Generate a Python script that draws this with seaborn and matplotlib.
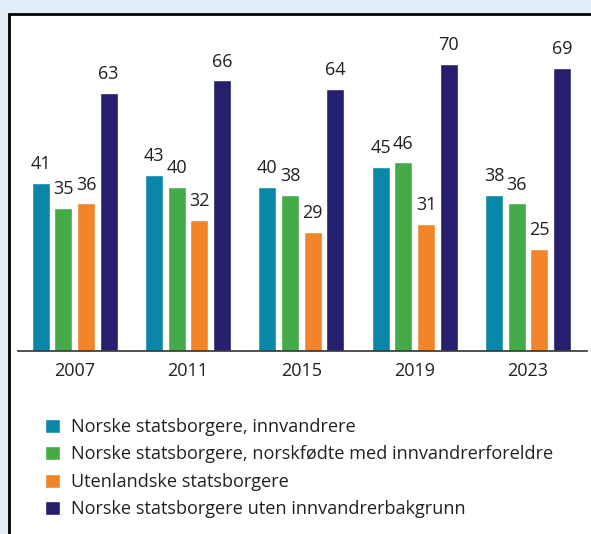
import matplotlib
matplotlib.use("Agg")
import matplotlib.pyplot as plt
import matplotlib.patches as mpatches
import seaborn as sns
import pandas as pd

years = ["2007", "2011", "2015", "2019", "2023"]
groups = [
    "Norske statsborgere, innvandrere",
    "Norske statsborgere, norskfødte med innvandrerforeldre",
    "Utenlandske statsborgere",
    "Norske statsborgere uten innvandrerbakgrunn",
]
innvandrere = [41, 43, 40, 45, 38]
norskfodte = [35, 40, 38, 46, 36]
utenlandske = [36, 32, 29, 31, 25]
uten_bakgrunn = [63, 66, 64, 70, 69]
colors = ["#0a86a8", "#45ab48", "#f28429", "#251f6d"]

series = [innvandrere, norskfodte, utenlandske, uten_bakgrunn]
rows = []
for g, vals in zip(groups, series):
    for y, v in zip(years, vals):
        rows.append({"year": y, "group": g, "value": v})
df = pd.DataFrame(rows)

sns.set_theme(style="white")
plt.rcParams["font.family"] = ["Open Sans", "DejaVu Sans"]
textc = "#231f20"

W, H = 591, 534
fig = plt.figure(figsize=(W / 100, H / 100), dpi=100)
fig.patch.set_facecolor("#e1eef7")

frame = mpatches.Rectangle((9.5 / W, -0.1), 1.0, (H - 14) / H + 0.1,
                           transform=fig.transFigure, facecolor="white",
                           edgecolor="black", linewidth=2.0, zorder=-1)
fig.add_artist(frame)

ax_l, ax_r, ax_b, ax_t = 18, 587, 351, 30
ax = fig.add_axes([ax_l / W, 1 - ax_b / H, (ax_r - ax_l) / W, (ax_b - ax_t) / H])
ax.set_facecolor("none")

sns.barplot(data=df, x="year", y="value", hue="group", palette=colors,
            width=0.8, gap=0.2, ax=ax, legend=True, saturation=1)

for c in ax.containers:
    ax.bar_label(c, padding=7, fontsize=13, color=textc)

ax.set_ylim(0, (ax_b - ax_t) / 4.1)
ax.set_xlim(-0.5, 4.52)
ax.set_xlabel("")
ax.set_ylabel("")
ax.set_yticks([])
for s in ["left", "right", "top"]:
    ax.spines[s].set_visible(False)
ax.spines["bottom"].set_color("#333333")
ax.spines["bottom"].set_linewidth(1.2)
ax.tick_params(axis="x", length=0, pad=8, labelsize=13, labelcolor=textc)

handles, labels = ax.get_legend_handles_labels()
ax.legend_.remove()
fig.legend(handles, labels, loc="upper left",
           bbox_to_anchor=(45 / W, 1 - 418 / H), bbox_transform=fig.transFigure,
           frameon=False, fontsize=13.1, labelcolor=textc,
           handlelength=0.82, handleheight=0.82, handletextpad=0.6,
           labelspacing=0.52, borderpad=0, borderaxespad=0)

fig.savefig("out.png", dpi=100, facecolor=fig.get_facecolor())
